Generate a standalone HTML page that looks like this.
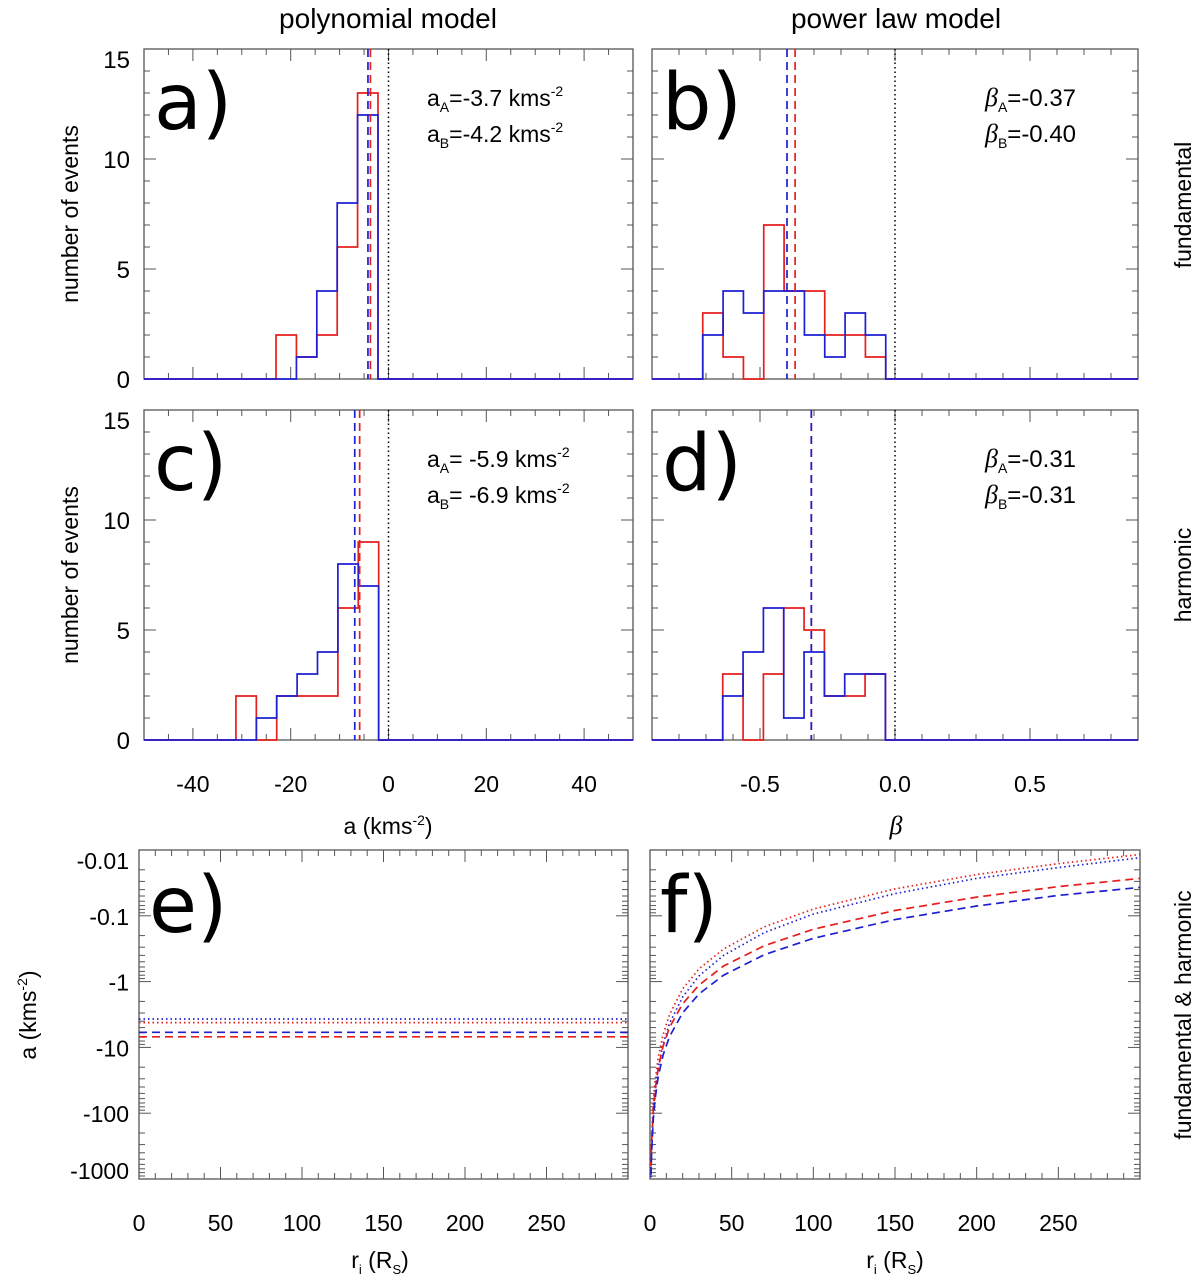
<!DOCTYPE html>
<html><head><meta charset="utf-8"><style>
html,body{margin:0;padding:0;background:#fff;}
svg{display:block;font-family:"Liberation Sans",Arial,sans-serif;}
</style></head><body>
<svg id="fig" width="1200" height="1281" viewBox="0 0 1200 1281" xmlns="http://www.w3.org/2000/svg">
<text x="388" y="28" font-size="28" text-anchor="middle">polynomial model</text>
<text x="896" y="28" font-size="28" text-anchor="middle">power law model</text>
<text transform="translate(1191,205) rotate(-90)" font-size="23" text-anchor="middle">fundamental</text>
<text transform="translate(1191,575) rotate(-90)" font-size="23" text-anchor="middle">harmonic</text>
<text transform="translate(1191,1015) rotate(-90)" font-size="23" text-anchor="middle">fundamental &amp; harmonic</text>
<text transform="translate(78,214) rotate(-90)" font-size="23" text-anchor="middle">number of events</text>
<text transform="translate(78,575) rotate(-90)" font-size="23" text-anchor="middle">number of events</text>
<text transform="translate(36,1015) rotate(-90)" font-size="23" text-anchor="middle">a (kms<tspan font-size="14" dy="-9">-2</tspan><tspan dy="9">)</tspan></text>
<text x="388" y="834" font-size="23" text-anchor="middle">a (kms<tspan font-size="14" dy="-9">-2</tspan><tspan dy="9">)</tspan></text>
<text x="896" y="834" font-size="26" font-style="italic" text-anchor="middle" font-family="Liberation Serif, serif">β</text>
<text x="380" y="1268" font-size="23" text-anchor="middle">r<tspan font-size="13" dy="6">i</tspan><tspan dy="-6"> (R</tspan><tspan font-size="13" dy="6">S</tspan><tspan dy="-6">)</tspan></text>
<text x="895" y="1268" font-size="23" text-anchor="middle">r<tspan font-size="13" dy="6">i</tspan><tspan dy="-6"> (R</tspan><tspan font-size="13" dy="6">S</tspan><tspan dy="-6">)</tspan></text>
</svg>
<script>
// ---- data ----
const countTicks = [0, 5, 10, 15];
const aTicks = [-40, -20, 0, 20, 40];
const betaTicks = [-0.5, 0.0, 0.5];
const betaTickLabels = ["-0.5", "0.0", "0.5"];
const rTicks = [0, 50, 100, 150, 200, 250];
const logTicks = [0.01, 0.1, 1, 10, 100, 1000];
const logTickLabels = ["-0.01", "-0.1", "-1", "-10", "-100", "-1000"];

// panel a (fundamental, polynomial)
const aBinStart = -23.0, aBinWidth = 4.17;
const aRed = [2, 1, 2, 6, 13];
const aBlue = [0, 1, 4, 8, 12];
const aMeanRed = -3.7, aMeanBlue = -4.2;
// panel c (harmonic, polynomial)
const cBinStart = -31.2;
const cRed = [2, 0, 2, 2, 2, 6, 9];
const cBlue = [0, 1, 2, 3, 4, 8, 7];
const cMeanRed = -5.9, cMeanBlue = -6.9;
// panel b (fundamental, power law)
const bBinStart = -0.712, bBinWidth = 0.0753;
const bRed = [3, 1, 0, 7, 4, 4, 2, 2, 1];
const bBlue = [2, 4, 3, 4, 4, 2, 1, 3, 2];
const bMeanRed = -0.37, bMeanBlue = -0.40;
// panel d (harmonic, power law)
const dBinStart = -0.638;
const dRed = [3, 0, 3, 6, 5, 2, 2, 3];
const dBlue = [2, 4, 6, 1, 4, 2, 3, 3];
const dMeanRed = -0.31, dMeanBlue = -0.31;
// panel e constant accelerations (magnitudes)
const eDotBlue = 3.7, eDotRed = 4.2, eDashBlue = 5.9, eDashRed = 6.9;
// panel f curves (magnitudes of a vs r)
const fR = [0.6, 1, 2, 3, 5, 8, 12, 20, 30, 45, 70, 100, 150, 200, 250, 300];
const fDotRed = [579, 238, 71, 35, 14.4, 6.4, 3.15, 1.29, 0.64, 0.32, 0.147, 0.079, 0.039, 0.0236, 0.0161, 0.0117];
const fDotBlue = [942, 376, 108, 52, 20.8, 8.9, 4.28, 1.71, 0.82, 0.40, 0.18, 0.094, 0.046, 0.027, 0.0185, 0.0131];
const fDashRed = [636, 278, 90, 47, 20.6, 9.6, 4.96, 2.17, 1.13, 0.58, 0.285, 0.16, 0.083, 0.052, 0.036, 0.027];
const fDashBlue = [872, 381, 124, 64, 28, 13.1, 6.8, 2.98, 1.54, 0.80, 0.39, 0.22, 0.114, 0.071, 0.049, 0.037];

const RED = "#e61e1e", BLUE = "#1e1ed2", AX = "#555";
const NS = "http://www.w3.org/2000/svg";
const svg = document.getElementById("fig");
function mk(tag, attrs, parent) {
  const e = document.createElementNS(NS, tag);
  for (const k in attrs) e.setAttribute(k, attrs[k]);
  (parent || svg).appendChild(e);
  return e;
}
function lin(d0, d1, p0, p1) { return v => p0 + (v - d0) * (p1 - p0) / (d1 - d0); }

function frame(g, L, T, R, B, name) {
  const r = mk("rect", { x: L, y: T, width: R - L, height: B - T, fill: "none", stroke: AX, "stroke-width": 1.3 }, g);
  
  
}
function tick(g, x1, y1, x2, y2) { mk("line", { x1, y1, x2, y2, stroke: AX, "stroke-width": 1 }, g); }

function histPanel(opt) {
  const g = mk("g", {});
  
  
  const { L, T, R, B } = opt;
  const xs = lin(opt.xmin, opt.xmax, L, R);
  const ys = lin(0, 15, B, T);
  for (let c = 1; c < 15; c++) {
    const len = c % 5 === 0 ? 12 : 6;
    tick(g, L, ys(c), L + len, ys(c)); tick(g, R, ys(c), R - len, ys(c));
  }
  for (let v = opt.xmin; v <= opt.xmax + 1e-9; v += opt.minor) {
    const isMaj = Math.abs(v / opt.major - Math.round(v / opt.major)) < 1e-6;
    const len = isMaj ? 12 : 6;
    tick(g, xs(v), T, xs(v), T + len); tick(g, xs(v), B, xs(v), B - len);
  }
  frame(g, L, T, R, B, opt.name);
  const z = mk("line", { x1: xs(0), y1: T, x2: xs(0), y2: B, stroke: "#000", "stroke-width": 1.5, "stroke-dasharray": "1.5 3" }, g);
  
  
  function step(arr, start, color, nm, w) {
    let d = `M ${L} ${B} L ${xs(start)} ${B}`;
    arr.forEach((c, i) => {
      const x0 = xs(start + i * opt.bw), x1 = xs(start + (i + 1) * opt.bw);
      d += ` L ${x0} ${ys(c)} L ${x1} ${ys(c)}`;
    });
    d += ` L ${xs(start + arr.length * opt.bw)} ${B} L ${R} ${B}`;
    const p = mk("path", { d, fill: "none", stroke: color, "stroke-width": w }, g);
    
    
  }
  step(opt.red, opt.start, RED, 'histogram-red', 1.7);
  step(opt.blue, opt.start, BLUE, 'histogram-blue', 1.7);
  const m1 = mk("line", { x1: xs(opt.meanRed), y1: T, x2: xs(opt.meanRed), y2: B, stroke: RED, "stroke-width": 1.7, "stroke-dasharray": "8 5" }, g);
  
  
  const m2 = mk("line", { x1: xs(opt.meanBlue), y1: T, x2: xs(opt.meanBlue), y2: B, stroke: BLUE, "stroke-width": 1.7, "stroke-dasharray": "8 5" }, g);
  
  
  if (opt.ylabels) {
    countTicks.forEach(c => {
      const t = mk("text", { x: L - 14, y: Math.max(ys(c) + 9, T + 19), "font-size": 24, "text-anchor": "end" }, g);
      t.textContent = c;
      
      
    });
  }
  if (opt.xlabels) {
    opt.xticks.forEach((v, i) => {
      const t = mk("text", { x: xs(v), y: B + 52, "font-size": 23, "text-anchor": "middle" }, g);
      t.textContent = opt.xlabels[i];
      
      
    });
  }
  const pl = mk("text", { x: L + 10, y: T + 80, "font-size": 78, "font-family": "DejaVu Sans, sans-serif" }, g);
  pl.textContent = opt.letter;
  
  
  opt.ann.forEach((a, i) => {
    const t = mk("text", { x: opt.annX, y: T + 57 + i * 36, "font-size": opt.annSize }, g);
    t.innerHTML = a;
    
    
  });
}

const supA = (s, v) => `a<tspan font-size="14" dy="6">${s}</tspan><tspan dy="-6">=${v} kms</tspan><tspan font-size="14" dy="-10">-2</tspan>`;
const bet = (s, v) => `<tspan font-style="italic" font-family="Liberation Serif, serif" font-size="26">β</tspan><tspan font-size="14" dy="6">${s}</tspan><tspan dy="-6">=${v}</tspan>`;

histPanel({ name: 'panel-a', L: 144, T: 49, R: 633, B: 379, xmin: -50, xmax: 50, minor: 5, major: 20, bw: aBinWidth, start: aBinStart, red: aRed, blue: aBlue, meanRed: aMeanRed, meanBlue: aMeanBlue, letter: 'a)', annX: 427, annSize: 23, ylabels: true, ann: [supA('A', '-3.7'), supA('B', '-4.2')] });
histPanel({ name: 'panel-b', L: 652, T: 49, R: 1138, B: 379, xmin: -0.9, xmax: 0.9, minor: 0.1, major: 0.5, bw: bBinWidth, start: bBinStart, red: bRed, blue: bBlue, meanRed: bMeanRed, meanBlue: bMeanBlue, letter: 'b)', annX: 985, annSize: 24, ylabels: false, ann: [bet('A', '-0.37'), bet('B', '-0.40')] });
histPanel({ name: 'panel-c', L: 144, T: 410, R: 633, B: 740, xmin: -50, xmax: 50, minor: 5, major: 20, bw: aBinWidth, start: cBinStart, red: cRed, blue: cBlue, meanRed: cMeanRed, meanBlue: cMeanBlue, letter: 'c)', annX: 427, annSize: 23, ylabels: true, ann: [supA('A', ' -5.9'), supA('B', ' -6.9')], xticks: aTicks, xlabels: aTicks.map(String) });
histPanel({ name: 'panel-d', L: 652, T: 410, R: 1138, B: 740, xmin: -0.9, xmax: 0.9, minor: 0.1, major: 0.5, bw: bBinWidth, start: dBinStart, red: dRed, blue: dBlue, meanRed: dMeanRed, meanBlue: dMeanBlue, letter: 'd)', annX: 985, annSize: 24, ylabels: false, ann: [bet('A', '-0.31'), bet('B', '-0.31')], xticks: betaTicks, xlabels: betaTickLabels });

function logPanel(opt) {
  const g = mk("g", {});
  
  
  const { L, T, R, B } = opt;
  const xs = lin(0, 300, L, R);
  const ys = v => T + (Math.log10(v) - Math.log10(0.01)) * (B - T) / 5;
  for (let dec = -2; dec < 3; dec++) {
    for (let k = 1; k < 10; k++) {
      const v = k * Math.pow(10, dec);
      const len = k === 1 ? 12 : 6;
      tick(g, L, ys(v), L + len, ys(v)); tick(g, R, ys(v), R - len, ys(v));
    }
  }
  for (let v = 0; v <= 300; v += 10) {
    const len = v % 50 === 0 ? 12 : 6;
    tick(g, xs(v), T, xs(v), T + len); tick(g, xs(v), B, xs(v), B - len);
  }
  frame(g, L, T, R, B, opt.name);
  rTicks.forEach(v => {
    const t = mk("text", { x: xs(v), y: B + 52, "font-size": 23, "text-anchor": "middle" }, g);
    t.textContent = v;
    
    
  });
  if (opt.ylabels) {
    logTicks.forEach((v, i) => {
      const t = mk("text", { x: L - 10, y: Math.min(Math.max(ys(v) + 9, T + 19), B), "font-size": 23, "text-anchor": "end" }, g);
      t.textContent = logTickLabels[i];
      
      
    });
  }
  const pl = mk("text", { x: L + 10, y: T + 82, "font-size": 78, "font-family": "DejaVu Sans, sans-serif" }, g);
  pl.textContent = opt.letter;
  
  
  const clip = mk("clipPath", { id: opt.name + "-clip" }, g);
  mk("rect", { x: L, y: T, width: R - L, height: B - T }, clip);
  opt.series.forEach(s => {
    let d = "";
    s.r.forEach((r, i) => { d += (i ? " L " : "M ") + xs(r) + " " + ys(s.v[i]); });
    const p = mk("path", { d, fill: "none", stroke: s.color, "stroke-width": 1.7, "stroke-dasharray": s.dash, "clip-path": `url(#${opt.name}-clip)` }, g);
    
    
  });
}

logPanel({ name: 'panel-e', L: 139, T: 850, R: 628, B: 1179, letter: 'e)', ylabels: true, series: [
  { r: [0, 300], v: [eDotBlue, eDotBlue], color: BLUE, dash: "1.5 3", nm: 'fund-blue-dotted' },
  { r: [0, 300], v: [eDotRed, eDotRed], color: RED, dash: "1.5 3", nm: 'fund-red-dotted' },
  { r: [0, 300], v: [eDashBlue, eDashBlue], color: BLUE, dash: "8 5", nm: 'harm-blue-dashed' },
  { r: [0, 300], v: [eDashRed, eDashRed], color: RED, dash: "8 5", nm: 'harm-red-dashed' }
]});
logPanel({ name: 'panel-f', L: 650, T: 850, R: 1140, B: 1179, letter: 'f)', ylabels: false, series: [
  { r: fR, v: fDotRed, color: RED, dash: "1.5 3", nm: 'fund-red-dotted' },
  { r: fR, v: fDotBlue, color: BLUE, dash: "1.5 3", nm: 'fund-blue-dotted' },
  { r: fR, v: fDashRed, color: RED, dash: "8 5", nm: 'harm-red-dashed' },
  { r: fR, v: fDashBlue, color: BLUE, dash: "8 5", nm: 'harm-blue-dashed' }
]});
</script>
</body></html>
